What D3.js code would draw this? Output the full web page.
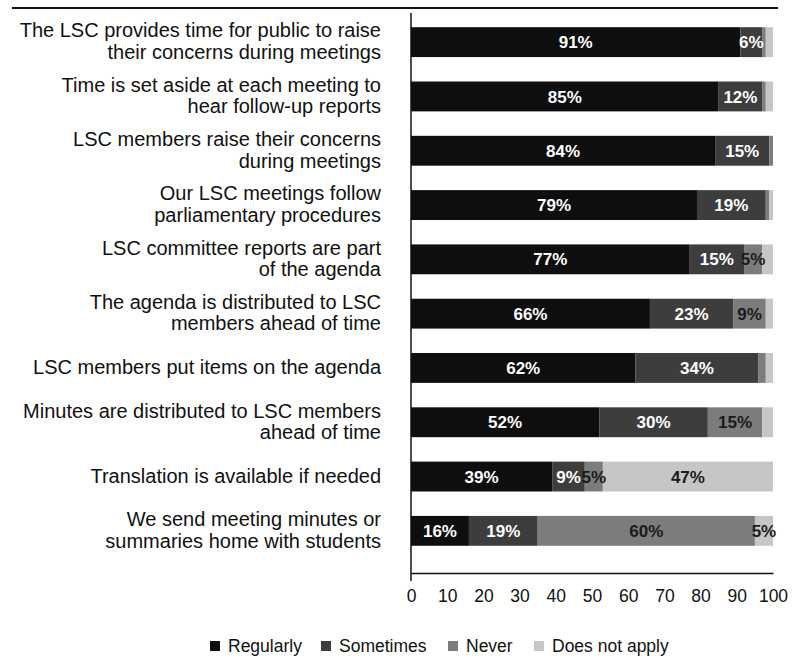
<!DOCTYPE html>
<html>
<head>
<meta charset="utf-8">
<script src="https://cdn.jsdelivr.net/npm/d3@7"></script>
<style>
  html, body { margin: 0; padding: 0; background: #fff; }
  svg { display: block; }
  text { font-family: "Liberation Sans", Arial, Helvetica, sans-serif; }
</style>
</head>
<body>
<svg id="chart" width="794" height="659"></svg>
<script>
// ---- Data ----
const categories = [
  ["The LSC provides time for public to raise", "their concerns during meetings"],
  ["Time is set aside at each meeting to", "hear follow-up reports"],
  ["LSC members raise their concerns", "during meetings"],
  ["Our LSC meetings follow", "parliamentary procedures"],
  ["LSC committee reports are part", "of the agenda"],
  ["The agenda is distributed to LSC", "members ahead of time"],
  ["LSC members put items on the agenda"],
  ["Minutes are distributed to LSC members", "ahead of time"],
  ["Translation is available if needed"],
  ["We send meeting minutes or", "summaries home with students"]
];
const seriesNames = ["Regularly", "Sometimes", "Never", "Does not apply"];
const regularly    = [91, 85, 84, 79, 77, 66, 62, 52, 39, 16];
const sometimes    = [ 6, 12, 15, 19, 15, 23, 34, 30,  9, 19];
const never        = [ 1,  1,  1,  1,  5,  9,  2, 15,  5, 60];
const doesNotApply = [ 2,  2,  0,  1,  3,  2,  2,  3, 47,  5];
const xTicks = [0, 10, 20, 30, 40, 50, 60, 70, 80, 90, 100];

const colors = ["#0e0e0e", "#3d3d3d", "#7c7c7c", "#c6c6c6"];
const labelColors = ["#ffffff", "#ffffff", "#1a1a1a", "#1a1a1a"];

// ---- Build table ----
const keys = ["r", "s", "n", "d"];
const rows = categories.map((c, i) => ({
  id: i, label: c,
  r: regularly[i], s: sometimes[i], n: never[i], d: doesNotApply[i]
}));
const stacked = d3.stack().keys(keys)(rows);

const svg = d3.select("#chart");

const x = d3.scaleLinear().domain([0, 100]).range([411, 773]);
const y = d3.scaleBand().domain(rows.map(d => d.id)).range([15, 558])
  .paddingInner(0.45).paddingOuter(0.225);

// top rule
svg.append("line").attr("x1", 12).attr("x2", 778).attr("y1", 8).attr("y2", 8)
  .attr("stroke", "#111").attr("stroke-width", 2);

// bars
const layers = svg.append("g").selectAll("g").data(stacked).join("g")
  .attr("fill", (d, i) => colors[i]);
layers.selectAll("rect").data(d => d).join("rect")
  .attr("x", d => x(d[0]))
  .attr("width", d => Math.max(0, x(d[1]) - x(d[0])))
  .attr("y", (d, i) => y(rows[i].id))
  .attr("height", y.bandwidth());

// value labels
stacked.forEach((layer, li) => {
  svg.append("g").selectAll("text")
    .data(layer.filter(d => (d[1] - d[0]) >= 5))
    .join("text")
    .attr("x", d => (x(d[0]) + x(d[1])) / 2)
    .attr("y", d => y(d.data.id) + y.bandwidth() / 2)
    .attr("dy", "0.36em")
    .attr("text-anchor", "middle")
    .attr("font-size", 17)
    .attr("font-weight", "bold")
    .attr("fill", labelColors[li])
    .text(d => (d[1] - d[0]) + "%");
});

// category labels
const cat = svg.append("g");
rows.forEach(r => {
  const n = r.label.length;
  const cy = y(r.id) + y.bandwidth() / 2 - 1;
  const lh = 21.5;
  const t = cat.append("text")
    .attr("text-anchor", "end")
    .attr("font-size", 20)
    .attr("fill", "#111");
  r.label.forEach((line, k) => {
    t.append("tspan").attr("x", 381)
      .attr("y", cy + (k - (n - 1) / 2) * lh)
      .attr("dy", "0.35em")
      .text(line);
  });
});

// axes
svg.append("line").attr("x1", 411).attr("x2", 411).attr("y1", 13).attr("y2", 581)
  .attr("stroke", "#111").attr("stroke-width", 1.5);
const xAxis = d3.axisBottom(x).tickValues(xTicks).tickSize(0).tickPadding(0);
const ax = svg.append("g").attr("transform", "translate(0,573)").call(xAxis);
ax.select(".domain").attr("stroke", "#111").attr("stroke-width", 1.5);
ax.selectAll("text")
  .attr("font-family", "\"Liberation Sans\", Arial, sans-serif")
  .attr("font-size", 17.5).attr("fill", "#111").attr("y", 17).attr("dy", "0.71em");

// legend
const legendX = [210, 321, 448, 534];
const lg = svg.append("g");
seriesNames.forEach((name, i) => {
  lg.append("rect").attr("x", legendX[i]).attr("y", 641).attr("width", 10).attr("height", 10)
    .attr("fill", colors[i]);
  lg.append("text").attr("x", legendX[i] + 18).attr("y", 646).attr("dy", "0.35em")
    .attr("font-size", 17.5).attr("fill", "#111").text(name);
});
</script>
</body>
</html>
